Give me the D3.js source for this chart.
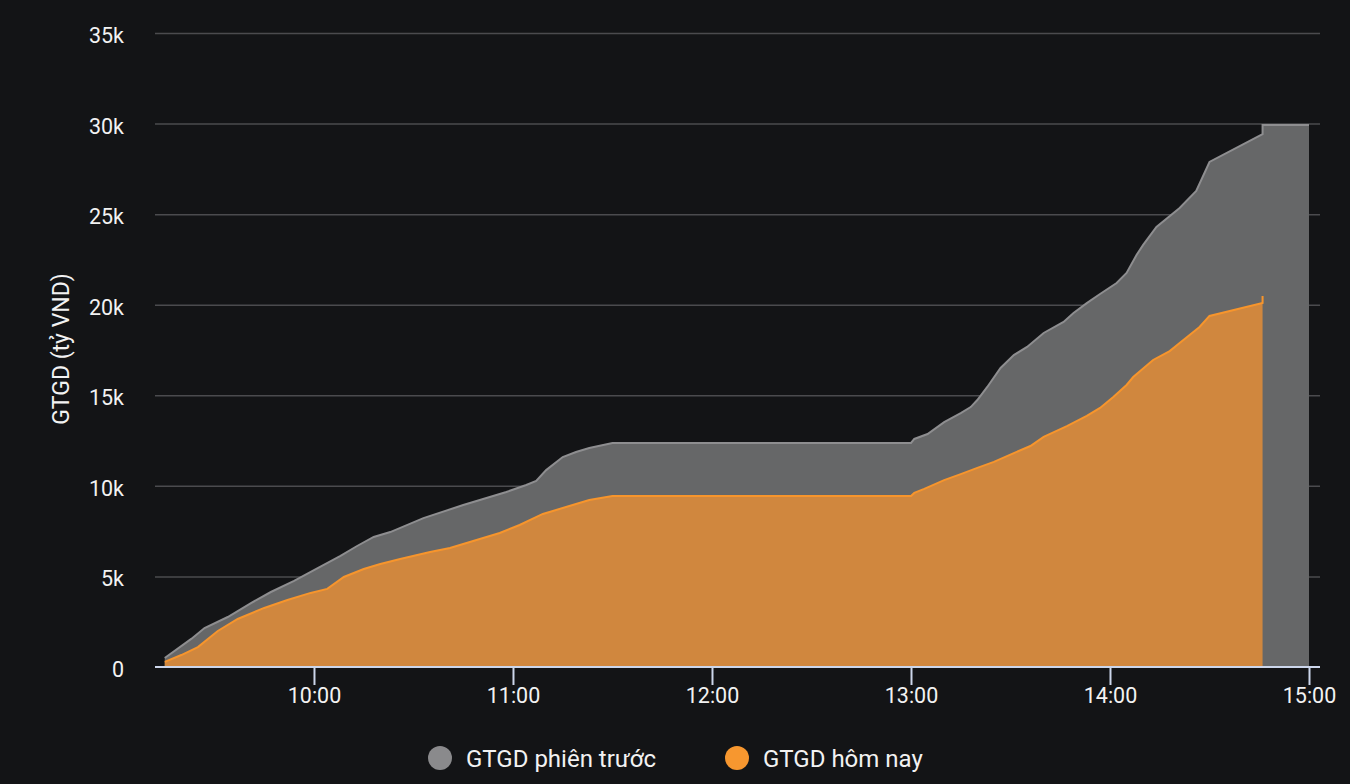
<!DOCTYPE html>
<html>
<head>
<meta charset="utf-8">
<script src="https://cdn.jsdelivr.net/npm/d3@7"></script>
<style>
  html, body { margin: 0; padding: 0; background: #131416; }
  svg { display: block; font-family: Roboto, "Noto Sans", sans-serif; }
</style>
</head>
<body>
<svg id="chart" width="1350" height="784"></svg>
<script>
// ---- data ----
const prevTimes = ["09:15","09:23","09:27","09:34","09:41","09:47","09:54","10:00","10:08","10:13","10:18","10:23","10:33","10:45","10:52","10:58","11:04","11:07","11:10","11:15","11:19","11:23","11:30","13:00","13:01","13:05","13:10","13:15","13:18","13:20","13:23","13:27","13:31","13:35","13:40","13:46","13:49","13:53","13:57","14:02","14:05","14:08","14:10","14:14","14:21","14:26","14:30","14:46","14:46","15:00"];
const prevValues = [500,1550,2150,2760,3530,4140,4750,5350,6130,6680,7180,7450,8220,8940,9330,9660,10050,10270,10870,11590,11870,12090,12370,12370,12590,12860,13520,14020,14350,14740,15460,16510,17220,17670,18440,19050,19540,20090,20590,21200,21750,22750,23300,24290,25340,26280,27880,29420,29920,29920];

const todayTimes = ["09:15","09:20","09:25","09:31","09:37","09:45","09:52","09:59","10:04","10:09","10:15","10:20","10:26","10:35","10:41","10:48","10:56","11:02","11:09","11:16","11:23","11:30","13:00","13:01","13:04","13:10","13:15","13:20","13:25","13:31","13:36","13:40","13:47","13:53","13:57","14:01","14:05","14:07","14:13","14:18","14:21","14:27","14:30","14:46","14:46"];
const todayValues = [280,660,1100,1990,2650,3260,3700,4090,4310,4970,5410,5690,5960,6350,6570,6960,7400,7840,8450,8830,9220,9440,9440,9610,9830,10320,10650,10990,11320,11810,12200,12700,13300,13860,14300,14900,15570,16010,16950,17440,17890,18770,19380,20100,20480];

const yTicks = [0,5000,10000,15000,20000,25000,30000,35000];
const xTickLabels = ["10:00","11:00","12:00","13:00","14:00","15:00"];
const seriesNames = ["GTGD phiên trước","GTGD hôm nay"];
const yTitle = "GTGD (tỷ VND)";

// ---- helpers ----
const parse = d3.timeParse("%H:%M");
const parseS = d3.timeParse("%H:%M:%S");
const prev = prevTimes.map((t,i)=>({t:parse(t), v:prevValues[i]}));
const today = todayTimes.map((t,i)=>({t:parse(t), v:todayValues[i]}));

const svg = d3.select("#chart");
const W = 1350, H = 784;
const mLeft = 155, mRight = 1320, mTop = 33, mBottom = 667;

const x = d3.scaleTime()
  .domain([parseS("09:12:04"), parseS("15:03:19")])
  .range([mLeft, mRight]);
const y = d3.scaleLinear().domain([0,35000]).range([mBottom, mTop]);

svg.append("rect").attr("width", W).attr("height", H).attr("fill", "#131416");

// grid
svg.append("g").selectAll("line").data(yTicks.filter(d=>d>0)).join("line")
  .attr("x1", mLeft).attr("x2", mRight)
  .attr("y1", d=>y(d)+0.5).attr("y2", d=>y(d)+0.5)
  .attr("stroke", "#4b4b4e").attr("stroke-width", 1.5);

// areas
const area = d3.area().x(d=>x(d.t)).y0(y(0)).y1(d=>y(d.v));
const line = d3.line().x(d=>x(d.t)).y(d=>y(d.v));

svg.append("path").datum(prev).attr("d", area).attr("fill", "#666768");
svg.append("path").datum(prev).attr("d", line).attr("fill","none")
  .attr("stroke", "#8e8e90").attr("stroke-width", 2);

svg.append("path").datum(today).attr("d", area).attr("fill", "#d0873e");
svg.append("path").datum(today).attr("d", line).attr("fill","none")
  .attr("stroke", "#f7952c").attr("stroke-width", 2);

// y axis labels
const yAxis = d3.axisLeft(y).tickValues(yTicks).tickSize(0).tickPadding(0)
  .tickFormat(d => d === 0 ? "0" : (d/1000) + "k");
const gy = svg.append("g").attr("transform", `translate(124,2)`).call(yAxis);
gy.select(".domain").remove();
gy.selectAll("text").attr("fill", "#f2f2f2").attr("font-size", 21.5)
  .attr("font-family", "Roboto, sans-serif").attr("dy", "0.35em");

// x axis
const xTicks = xTickLabels.map(s => parse(s));
const xAxis = d3.axisBottom(x).tickValues(xTicks).tickSize(18).tickPadding(3)
  .tickFormat(d3.timeFormat("%H:%M"));
const gx = svg.append("g").attr("transform", `translate(0,${mBottom})`).call(xAxis);
gx.select(".domain").attr("stroke", "#ccd6eb").attr("stroke-width", 2)
  .attr("d", `M${mLeft},0H${mRight}`);
gx.selectAll(".tick line").attr("stroke", "#ccd6eb").attr("stroke-width", 2);
gx.selectAll("text").attr("fill", "#f2f2f2").attr("font-size", 21.5)
  .attr("font-family", "Roboto, sans-serif");

// y title
svg.append("text").attr("transform", "translate(69,349) rotate(-90)")
  .attr("text-anchor", "middle").attr("fill", "#f2f2f2")
  .attr("font-size", 23).text(yTitle);

// legend
const legendColors = ["#8a8a8c", "#f7972f"];
const legendX = [440, 737];
const lg = svg.append("g");
seriesNames.forEach((n,i)=>{
  lg.append("circle").attr("cx", legendX[i]).attr("cy", 758).attr("r", 12)
    .attr("fill", legendColors[i]);
  lg.append("text").attr("x", legendX[i] + 26).attr("y", 767)
    .attr("fill", "#f2f2f2").attr("font-size", 24).text(n);
});
</script>
</body>
</html>
